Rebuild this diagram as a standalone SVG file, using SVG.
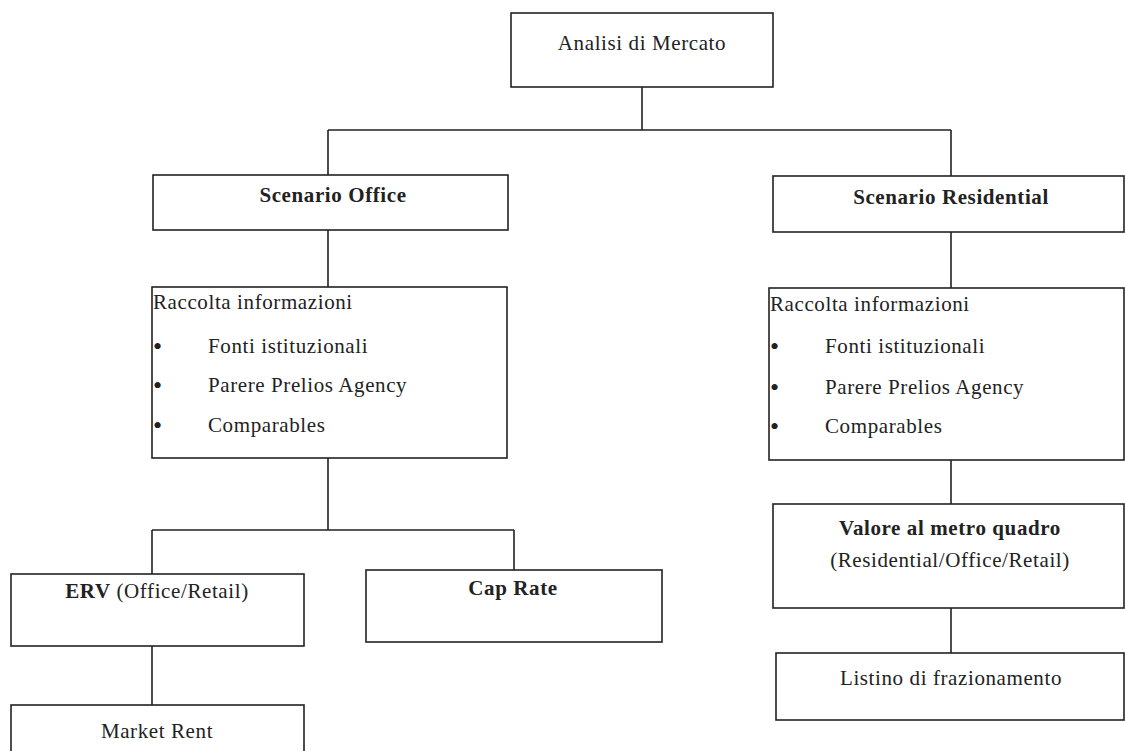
<svg xmlns="http://www.w3.org/2000/svg" width="1125" height="751" viewBox="0 0 1125 751">
<style>
.box{fill:#fff;stroke:#222;stroke-width:1.6}
.ln{stroke:#222;stroke-width:1.6;fill:none}
text{font-family:"Liberation Serif","DejaVu Serif",serif;font-size:21px;letter-spacing:0.6px;fill:#222}
.c{text-anchor:middle}
.b{font-weight:bold}
.bul{font-size:26px}
</style>
<rect width="1125" height="751" fill="#fff"/>
<g id="connectors">
<path class="ln" d="M642,87V130M328,130H951M328,130V175M951,130V176M328,230V287M951,232V288M328,458V530M152,530H514M152,530V574M514,530V570M152,646V705M951,460V504M951,608V653"/>
</g>
<g id="n-analisi"><rect class="box" x="511" y="13" width="262" height="74"/><text class="c" x="642" y="50">Analisi di Mercato</text></g>
<g id="n-office"><rect class="box" x="153" y="175" width="355" height="55"/><text class="c b" x="333" y="202">Scenario Office</text></g>
<g id="n-residential"><rect class="box" x="773" y="176" width="351" height="56"/><text class="c b" x="951" y="204">Scenario Residential</text></g>
<g id="n-raccolta-office"><rect class="box" x="152" y="287" width="355" height="171"/>
<text x="153" y="309">Raccolta informazioni</text>
<text class="bul" x="153" y="355">•</text><text x="208" y="353">Fonti istituzionali</text>
<text class="bul" x="153" y="394">•</text><text x="208" y="392">Parere Prelios Agency</text>
<text class="bul" x="153" y="434">•</text><text x="208" y="432">Comparables</text></g>
<g id="n-raccolta-res"><rect class="box" x="769" y="288" width="355" height="172"/>
<text x="770" y="311">Raccolta informazioni</text>
<text class="bul" x="770" y="355">•</text><text x="825" y="353">Fonti istituzionali</text>
<text class="bul" x="770" y="396">•</text><text x="825" y="394">Parere Prelios Agency</text>
<text class="bul" x="770" y="435">•</text><text x="825" y="433">Comparables</text></g>
<g id="n-erv"><rect class="box" x="11" y="574" width="293" height="72"/><text class="c" x="157" y="598"><tspan class="b">ERV</tspan> (Office/Retail)</text></g>
<g id="n-cap"><rect class="box" x="366" y="570" width="296" height="72"/><text class="c b" x="513" y="595">Cap Rate</text></g>
<g id="n-market"><rect class="box" x="11" y="705" width="293" height="60"/><text class="c" x="157" y="738">Market Rent</text></g>
<g id="n-valore"><rect class="box" x="773" y="504" width="351" height="104"/><text class="c b" x="950" y="535">Valore al metro quadro</text><text class="c" x="950" y="567">(Residential/Office/Retail)</text></g>
<g id="n-listino"><rect class="box" x="776" y="653" width="348" height="67"/><text class="c" x="951" y="685">Listino di frazionamento</text></g>
</svg>
